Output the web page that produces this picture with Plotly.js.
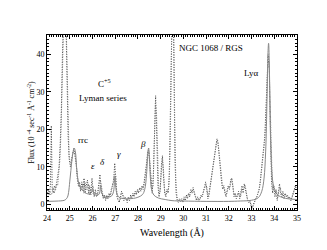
<!DOCTYPE html>
<html><head><meta charset="utf-8">
<script src="https://cdn.plot.ly/plotly-3.0.1.min.js"></script>
<style>html,body{margin:0;padding:0;background:#fff}#chart{width:327px;height:250px}</style>
</head><body><div id="chart"></div>
<script>
// Model (solid line): C VI Lyman series + RRC
const modelWave = [24.0,24.5,24.7,24.8,24.9,24.95,25.0,25.05,25.1,25.15,25.2,25.25,25.3,25.35,25.4,25.5,25.6,25.7,25.8,25.9,25.98,26.02,26.08,26.2,26.3,26.36,26.42,26.55,26.7,26.85,26.93,26.99,27.05,27.15,27.3,27.5,27.8,28.0,28.2,28.3,28.38,28.44,28.47,28.5,28.55,28.6,28.7,28.9,29.2,29.5,30.0,31.0,32.0,32.5,33.0,33.3,33.45,33.55,33.62,33.68,33.72,33.75,33.78,33.82,33.88,33.95,34.05,34.2,34.5,35.0];
const modelFlux = [0.8,0.9,1.0,1.2,1.9,3.2,6,9,12,14,15,14,10,7,5.5,4.2,3.5,3.0,2.8,2.8,3.5,4.0,2.8,2.4,2.8,5.0,2.8,2.0,1.9,2.3,3.5,7.5,3.5,2.0,1.6,1.5,1.6,1.9,2.6,4,8,14,15,13,7,4,2.5,1.7,1.3,1.0,0.9,0.8,0.8,0.9,1.1,1.8,3.5,7,14,28,40,43,38,22,10,5.5,3.5,2.3,1.6,1.3];

// Observed spectrum, first dotted series
const obs1Wave = [24.00,24.05,24.10,24.15,24.19,24.23,24.28,24.33,24.38,24.43,24.48,24.53,24.58,24.63,24.68,24.73,24.78,24.83,24.88,24.93,24.98,25.03,25.08,25.13,25.18,25.23,25.28,25.33,25.38,25.43,25.48,25.53,25.58,25.63,25.68,25.73,25.78,25.83,25.88,25.93,25.98,26.03,26.08,26.13,26.18,26.23,26.28,26.33,26.38,26.43,26.48,26.53,26.58,26.63,26.68,26.73,26.78,26.83,26.88,26.93,26.98,27.03,27.08,27.13,27.18,27.23,27.28,27.33,27.38,27.43,27.48,27.53,27.58,27.63,27.68,27.73,27.78,27.83,27.88,27.93,27.98,28.03,28.08,28.13,28.18,28.23,28.28,28.33,28.38,28.43,28.48,28.53,28.58,28.63,28.68,28.73,28.78,28.83,28.88,28.93,28.98,29.03,29.08,29.13,29.18,29.23,29.28,29.33,29.38,29.43,29.48,29.53,29.58,29.63,29.68,29.73,29.78,29.83,29.88,29.93,29.98,30.03,30.08,30.13,30.18,30.23,30.28,30.33,30.38,30.43,30.48,30.53,30.58,30.63,30.68,30.73,30.78,30.83,30.88,30.93,30.98,31.03,31.08,31.13,31.18,31.23,31.28,31.33,31.38,31.43,31.48,31.53,31.58,31.63,31.68,31.73,31.78,31.83,31.88,31.93,31.98,32.03,32.08,32.13,32.18,32.23,32.28,32.33,32.38,32.43,32.48,32.53,32.58,32.63,32.68,32.73,32.78,32.83,32.88,32.93,32.98,33.03,33.08,33.13,33.18,33.23,33.28,33.33,33.38,33.43,33.48,33.53,33.58,33.63,33.68,33.73,33.78,33.83,33.88,33.93,33.98,34.03,34.08,34.13,34.18,34.23,34.28,34.33,34.38,34.43,34.48,34.53,34.58,34.63,34.68,34.73,34.78,34.83,34.88,34.93,34.98];
const obs1Flux = [3,4,2.5,5,21,4,3,5,4,6,7,10,16,25,40,55,60,50,30,18,12,10,12,14,15,13,11,7,5,6,3.5,6,4,7,3,5,6.5,3,5,2.5,7,3,2,4,2,3,5,8,4,3,1.5,2.5,1,2.5,1.5,3,2,4,5,6,11,5,2,1,0.5,2,3.5,2.5,1,2,1.5,0.5,2,1,2.5,1.5,3,2,3.5,2.5,4,3,4.5,3.5,5,4,6,8,11,14,14,10,5,3,8,22,29,18,5,2,4,10,13,7,3,2,4,3,8,25,50,60,40,12,3,1,0.5,1.5,0.8,1.5,0.5,2,1,2.5,1.5,3,2,4,3,4.5,3,2,1,2,1,1.5,2.5,2,3.5,4,6,4,1.5,3,5,7,10,12,14,16,17.5,16,12,9,6,4,5,3,2,4,5,4,6.5,7,4,2,3,1.5,2.5,3.5,1.5,3,5,3,5.5,4,2,1,0.5,1,-0.5,-1,0,1,1.5,2,3,4,6,9,12,15,18,25,34,40,36,18,6,3,5,2,4,1,3,5.5,3,2,3.5,1.5,3,2,2.5,1.5,2,1,2,3,4,5,4];

// Observed spectrum, second dotted series
const obs2Wave = [24.02,24.07,24.12,24.17,24.22,24.27,24.32,24.37,24.42,24.47,24.52,24.57,24.62,24.67,24.72,24.77,24.82,24.87,24.92,24.97,25.02,25.07,25.12,25.17,25.22,25.27,25.32,25.37,25.42,25.47,25.52,25.57,25.62,25.67,25.72,25.77,25.82,25.87,25.92,25.97,26.02,26.07,26.12,26.17,26.22,26.27,26.32,26.37,26.42,26.47,26.52,26.57,26.62,26.67,26.72,26.77,26.82,26.87,26.92,26.97,27.02,27.07,27.12,27.17,27.22,27.27,27.32,27.37,27.42,27.47,27.52,27.57,27.62,27.67,27.72,27.77,27.82,27.87,27.92,27.97,28.02,28.07,28.12,28.17,28.22,28.27,28.32,28.37,28.42,28.47,28.52,28.57,28.62,28.67,28.72,28.77,28.82,28.87,28.92,28.97,29.02,29.07,29.12,29.17,29.22,29.27,29.32,29.37,29.42,29.47,29.52,29.57,29.62,29.67,29.72,29.77,29.82,29.87,29.92,29.97,30.02,30.07,30.12,30.17,30.22,30.27,30.32,30.37,30.42,30.47,30.52,30.57,30.62,30.67,30.72,30.77,30.82,30.87,30.92,30.97,31.02,31.07,31.12,31.17,31.22,31.27,31.32,31.37,31.42,31.47,31.52,31.57,31.62,31.67,31.72,31.77,31.82,31.87,31.92,31.97,32.02,32.07,32.12,32.17,32.22,32.27,32.32,32.37,32.42,32.47,32.52,32.57,32.62,32.67,32.72,32.77,32.82,32.87,32.92,32.97,33.02,33.07,33.12,33.17,33.22,33.27,33.32,33.37,33.42,33.47,33.52,33.57,33.62,33.67,33.72,33.77,33.82,33.87,33.92,33.97,34.02,34.07,34.12,34.17,34.22,34.27,34.32,34.37,34.42,34.47,34.52,34.57,34.62,34.67,34.72,34.77,34.82,34.87,34.92,34.97];
const obs2Flux = [2,3.5,4,2.5,3,4.5,3,4,5.5,5,8,12,20,33,50,58,55,38,22,13,11,11,13,14.5,14,12,9,6,4.5,5,4,5.5,3,6,4,4,5.5,2.5,4,3.5,5,2.5,3,3,2.5,4,6.5,6,3.5,2,2,1.5,2,2,2.5,2.5,3,4.5,5.5,8,8,3,1.5,1,1,3,3,2,1.5,1.5,1,1.5,1.5,2,2,2.5,2.5,3,3,3.5,3.5,4,4,4.5,4.5,5,7,9.5,12.5,15,12,7,4,5,15,27,24,10,3,3,7,12,10,4,2.5,3,3.5,5,15,38,60,52,22,6,2,1,1,1.2,1,1,1.2,1.5,1.8,2,2.5,2.5,3.5,3.5,3.5,3.5,2.5,1.5,1.5,1.5,1.2,2,2.2,3,4,5,5,2.5,2,4,6,8.5,11,13,15,17,17,14,10.5,7.5,5,4.5,4,2.5,3,4.5,4.5,5,7,5.5,3,2.5,2.5,2,3,2.5,2,4,4,4,5,3,1.5,0.8,0.8,0.2,-0.8,-0.5,0.5,1.2,1.8,2.5,3.5,5,7.5,10.5,13.5,16.5,21,30,38,38,27,11,4,4,3.5,3,2.5,2,4,4.5,2.5,2.5,2.5,2.5,2.5,2.2,2,1.8,1.5,1.5,2.5,3.5,4.5,4.5];

const tickVals = [24,25,26,27,28,29,30,31,32,33,34,35];
const tickText = ['24','25','26','27','28','29','30','31','32','33','34','35'];

const traces = [
  {x: obs1Wave, y: obs1Flux, mode:'lines', line:{color:'#444', width:1, dash:'1px,1.5px'}, hoverinfo:'skip'},
  {x: obs2Wave, y: obs2Flux, mode:'lines', line:{color:'#777', width:1, dash:'1px,1.5px'}, hoverinfo:'skip'},
  {x: modelWave, y: modelFlux, mode:'lines', line:{color:'#888', width:1, shape:'spline'}, hoverinfo:'skip'}
];

const ann = (x,y,t,size) => ({x:x, y:y, xref:'x', yref:'y', text:t, showarrow:false, font:{family:'Liberation Serif', size:size||9, color:'#000'}});

const layout = {
  width:327, height:250,
  margin:{l:47, r:30, t:35, b:40},
  paper_bgcolor:'#fff', plot_bgcolor:'#fff',
  showlegend:false,
  font:{family:'Liberation Serif', color:'#000', size:8},
  xaxis:{range:[24,35], tickvals:tickVals, ticktext:tickText, ticks:'inside', ticklen:4, tickcolor:'#000',
    minor:{dtick:0.1, ticks:'inside', ticklen:2, tickcolor:'#000'},
    showline:true, linecolor:'#000', linewidth:1, mirror:'allticks', showgrid:false, zeroline:false,
    tickfont:{family:'Liberation Serif', size:8},
    title:{text:'Wavelength (Å)', font:{family:'Liberation Serif', size:10}, standoff:7}},
  yaxis:{range:[-1.5,45.2], dtick:10, ticks:'inside', ticklen:4, tickcolor:'#000',
    minor:{dtick:1, ticks:'inside', ticklen:2, tickcolor:'#000'},
    showline:true, linecolor:'#000', linewidth:1, mirror:'allticks', showgrid:false, zeroline:false,
    tickfont:{family:'Liberation Serif', size:8},
    title:{text:'Flux (10 <sup>-4</sup> sec<sup>-1</sup> Å<sup>-1</sup> cm<sup>-2</sup>)', font:{family:'Liberation Serif', size:8}, standoff:0}},
  annotations:[
    ann(26.55,32.4,'C<sup>+5</sup>'),
    ann(26.47,28.5,'Lyman series'),
    ann(31.22,41.8,'NGC 1068 / RGS'),
    ann(32.99,35.0,'Lyα'),
    ann(25.6,17.3,'rrc'),
    ann(26.03,10.3,'<i>ε</i>'),
    ann(26.42,11.3,'<i>δ</i>'),
    ann(27.17,13.4,'<i>γ</i>'),
    ann(28.23,16.0,'<i>β</i>')
  ]
};

Plotly.newPlot('chart', traces, layout, {displayModeBar:false, staticPlot:true});
</script></body></html>
